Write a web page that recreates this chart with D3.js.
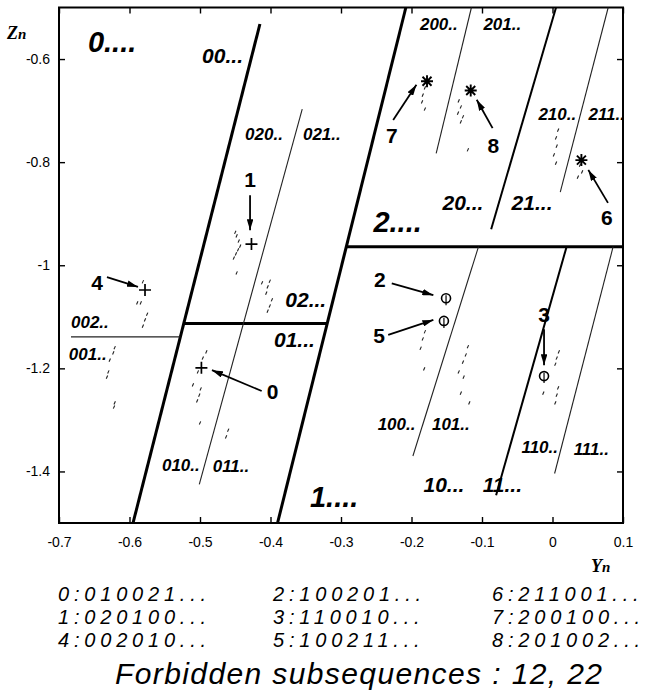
<!DOCTYPE html>
<html>
<head>
<meta charset="utf-8">
<script src="https://cdn.jsdelivr.net/npm/d3@7"></script>
<style>
	body { margin: 0; background: #fff; }
	svg text { font-family: "Liberation Sans", Arial, Helvetica, sans-serif; }
</style>
</head>
<body>
<svg width="648" height="700"></svg>
<script>
// ticks
let xTicks = [-0.7, -0.6, -0.5, -0.4, -0.3, -0.2, -0.1, 0, 0.1]
let yTicks = [-0.6, -0.8, -1, -1.2, -1.4]

// partition lines, each [[Yn, Zn], [Yn, Zn]]
let thickBounds = [
	[[-0.595, -1.5], [-0.415, -0.532]],
	[[-0.390, -1.5], [-0.208, -0.5]],
	[[-0.523, -1.113], [-0.320, -1.113]],
	[[-0.292, -0.964], [0.1, -0.964]]
]
let midBounds = [
	[[0.005, -0.5], [-0.087, -0.930]],
	[[0.020, -0.964], [-0.080, -1.446]]
]
let thinBounds = [
	[[-0.355, -0.697], [-0.501, -1.425]],
	[[-0.115, -0.5], [-0.165, -0.783]],
	[[0.079, -0.5], [0.011, -0.858]],
	[[-0.105, -0.964], [-0.198, -1.370]],
	[[0.086, -0.964], [0.003, -1.404]],
	[[-0.683, -1.139], [-0.528, -1.139]]
]

// attractor points
let orbitPoints = [
	[-0.450, -0.936], [-0.448, -0.943], [-0.445, -0.953], [-0.443, -0.963], [-0.446, -0.970],
	[-0.449, -0.978], [-0.452, -0.986], [-0.448, -1.015],
	[-0.401, -1.031], [-0.404, -1.042], [-0.406, -1.054], [-0.398, -1.067], [-0.401, -1.079],
	[-0.404, -1.089], [-0.412, -1.034],
	[-0.581, -1.032], [-0.584, -1.073], [-0.575, -1.095], [-0.578, -1.106], [-0.581, -1.118],
	[-0.589, -1.073],
	[-0.621, -1.160], [-0.623, -1.170], [-0.628, -1.184], [-0.630, -1.207], [-0.632, -1.217],
	[-0.621, -1.267], [-0.622, -1.275],
	[-0.491, -1.168], [-0.496, -1.180], [-0.503, -1.207], [-0.510, -1.232], [-0.499, -1.240],
	[-0.501, -1.252], [-0.504, -1.263], [-0.500, -1.306],
	[-0.460, -1.320], [-0.463, -1.333],
	[-0.181, -0.656], [-0.184, -0.670], [-0.185, -0.683], [-0.181, -0.697],
	[-0.133, -0.681], [-0.130, -0.693], [-0.134, -0.705], [-0.127, -0.712], [-0.130, -0.722],
	[-0.120, -0.776],
	[0.008, -0.738], [0.005, -0.753], [0.006, -0.769], [0.002, -0.786], [0.005, -0.802],
	[0.039, -0.806], [0.042, -0.819], [0.036, -0.829],
	[-0.181, -1.129], [-0.184, -1.143], [-0.187, -1.161], [-0.182, -1.201],
	[-0.120, -1.158], [-0.123, -1.174], [-0.127, -1.188], [-0.133, -1.207], [-0.126, -1.217],
	[-0.130, -1.248], [-0.118, -1.267],
	[0.009, -1.168], [0.006, -1.180], [0.004, -1.192], [0.008, -1.238], [0.006, -1.252],
	[0.004, -1.267], [-0.013, -1.248]
]

// periodic points by symbol
let plusPoints = [[-0.498, -1.199], [-0.427, -0.959], [-0.578, -1.048]]
let circlePoints = [[-0.151, -1.064], [-0.154, -1.108], [-0.012, -1.215]]
let starPoints = [[0.041, -0.796], [-0.178, -0.643], [-0.116, -0.661]]

let numberLabels = [
	['0', -0.397, -1.260], ['1', -0.429, -0.848], ['4', -0.646, -1.048],
	['7', -0.228, -0.763], ['8', -0.084, -0.782], ['6', 0.077, -0.922],
	['2', -0.245, -1.042], ['5', -0.246, -1.151], ['3', -0.012, -1.111]
]
let arrows = [
	[[-0.4125, -1.244], [-0.483, -1.2035]],
	[[-0.429, -0.864], [-0.429, -0.932]],
	[[-0.632, -1.023], [-0.588, -1.042]],
	[[-0.226, -0.718], [-0.193, -0.650]],
	[[-0.085, -0.734], [-0.1075, -0.679]],
	[[0.0787, -0.879], [0.0508, -0.815]],
	[[-0.228, -1.035], [-0.169, -1.058]],
	[[-0.233, -1.135], [-0.169, -1.106]],
	[[-0.012, -1.124], [-0.012, -1.194]]
]

// symbolic region names
let bigLabels = [['0....', -0.659, -0.586], ['1....', -0.344, -1.468], ['2....', -0.254, -0.935]]
let midLabels = [
	['00...', -0.497, -0.608], ['02...', -0.379, -1.081], ['01...', -0.395, -1.158],
	['20...', -0.156, -0.893], ['21...', -0.058, -0.893], ['10...', -0.183, -1.439],
	['11...', -0.099, -1.439]
]
let smallLabels = [
	['020..', -0.436, -0.757], ['021..', -0.354, -0.757], ['002..', -0.683, -1.122],
	['001..', -0.686, -1.184], ['010..', -0.554, -1.399], ['011..', -0.482, -1.402],
	['200..', -0.188, -0.544], ['201..', -0.098, -0.544], ['210..', -0.020, -0.718],
	['211..', 0.051, -0.718], ['100..', -0.248, -1.320], ['101..', -0.171, -1.320],
	['110..', -0.044, -1.365], ['111..', 0.030, -1.368]
]

let codeColumns = [
	['0:010021...', '1:020100...', '4:002010...'],
	['2:100201...', '3:110010...', '5:100211...'],
	['6:211001...', '7:200100...', '8:201002...']
]
let footNote = 'Forbidden subsequences : 12, 22'

let svg = d3.select('svg')
let x = d3.scaleLinear().domain([-0.7, 0.1]).range([59, 623])
let y = d3.scaleLinear().domain([-0.5, -1.5]).range([7.5, 523])

svg.append('defs').append('marker')
	.attr('id', 'head')
	.attr('viewBox', '0 0 10 6')
	.attr('refX', 10).attr('refY', 3)
	.attr('markerUnits', 'userSpaceOnUse')
	.attr('markerWidth', 11).attr('markerHeight', 6.6)
	.attr('orient', 'auto')
	.append('path')
	.attr('d', 'M0,0L10,3L0,6z')
	.attr('fill', '#000')

// axes, ticks inside on all four sides
function styleAxis(g) {
	g.select('.domain').remove()
	g.selectAll('.tick line').attr('stroke', '#000').attr('stroke-width', 1.4)
	g.selectAll('.tick text')
		.attr('fill', '#000')
		.style('font-family', '"Liberation Sans", Arial, sans-serif')
		.style('font-size', '14px')
}
svg.append('g').attr('transform', 'translate(0,523)')
	.call(d3.axisBottom(x).tickValues(xTicks).tickFormat(String).tickSize(-6).tickPadding(14))
	.call(styleAxis)
svg.append('g').attr('transform', 'translate(0,7.5)')
	.call(d3.axisTop(x).tickValues(xTicks).tickFormat('').tickSize(-6))
	.call(styleAxis)
svg.append('g').attr('transform', 'translate(59,0)')
	.call(d3.axisLeft(y).tickValues(yTicks).tickFormat(String).tickSize(-6).tickPadding(9))
	.call(styleAxis)
svg.append('g').attr('transform', 'translate(623,0)')
	.call(d3.axisRight(y).tickValues(yTicks).tickFormat('').tickSize(-6))
	.call(styleAxis)

svg.append('rect')
	.attr('x', x(-0.7)).attr('y', y(-0.5))
	.attr('width', x(0.1) - x(-0.7)).attr('height', y(-1.5) - y(-0.5))
	.attr('fill', 'none').attr('stroke', '#000').attr('stroke-width', 2)

function drawBounds(list, cls, width, colour) {
	svg.append('g').selectAll('line.' + cls)
		.data(list)
		.join('line')
		.attr('class', cls)
		.attr('x1', d => x(d[0][0])).attr('y1', d => y(d[0][1]))
		.attr('x2', d => x(d[1][0])).attr('y2', d => y(d[1][1]))
		.attr('stroke', colour)
		.attr('stroke-width', width)
}
drawBounds(thickBounds, 'thick', 3, '#000')
drawBounds(midBounds, 'mid', 2, '#000')
drawBounds(thinBounds, 'thin', 1.1, '#222')

// the attractor, small dashes
svg.append('g').selectAll('line')
	.data(orbitPoints)
	.join('line')
	.attr('x1', d => x(d[0]) - 0.7).attr('y1', d => y(d[1]) + 1.6)
	.attr('x2', d => x(d[0]) + 0.7).attr('y2', d => y(d[1]) - 1.6)
	.attr('stroke', '#222')
	.attr('stroke-width', 1.1)

svg.append('g').selectAll('path')
	.data(plusPoints)
	.join('path')
	.attr('transform', d => 'translate(' + x(d[0]) + ',' + y(d[1]) + ')')
	.attr('d', 'M-6,0H6M0,-6V6')
	.attr('stroke', '#000').attr('stroke-width', 1.7)

svg.append('g').selectAll('path')
	.data(starPoints)
	.join('path')
	.attr('transform', d => 'translate(' + x(d[0]) + ',' + y(d[1]) + ')')
	.attr('d', 'M-6,0H6M0,-6V6M-4.5,-4.5L4.5,4.5M-4.5,4.5L4.5,-4.5')
	.attr('stroke', '#000').attr('stroke-width', 1.9)

let circles = svg.append('g').selectAll('g')
	.data(circlePoints)
	.join('g')
	.attr('transform', d => 'translate(' + x(d[0]) + ',' + y(d[1]) + ')')
circles.append('circle')
	.attr('r', 4.5)
	.attr('fill', 'none').attr('stroke', '#000').attr('stroke-width', 1.6)
circles.append('path')
	.attr('d', 'M0,-3V7')
	.attr('stroke', '#000').attr('stroke-width', 1.2)

svg.append('g').selectAll('line')
	.data(arrows)
	.join('line')
	.attr('x1', d => x(d[0][0])).attr('y1', d => y(d[0][1]))
	.attr('x2', d => x(d[1][0])).attr('y2', d => y(d[1][1]))
	.attr('stroke', '#000').attr('stroke-width', 1.8)
	.attr('marker-end', 'url(#head)')

svg.append('g').selectAll('text')
	.data(numberLabels)
	.join('text')
	.attr('x', d => x(d[1])).attr('y', d => y(d[2]))
	.attr('text-anchor', 'middle')
	.style('font-weight', 'bold')
	.style('font-size', '21px')
	.text(d => d[0])

function drawNames(list, size) {
	svg.append('g').selectAll('text')
		.data(list)
		.join('text')
		.attr('x', d => x(d[1])).attr('y', d => y(d[2]))
		.style('font-weight', 'bold')
		.style('font-style', 'italic')
		.style('font-size', size + 'px')
		.text(d => d[0])
}
drawNames(bigLabels, 29)
drawNames(midLabels, 21)
drawNames(smallLabels, 17)

// axis names
svg.append('text').attr('x', 7).attr('y', 39)
	.style('font-family', '"Liberation Serif", "Times New Roman", serif')
	.style('font-weight', 'bold').style('font-style', 'italic').style('font-size', '18px')
	.call(t => t.append('tspan').text('Z'))
	.call(t => t.append('tspan').style('font-size', '15px').text('n'))
svg.append('text').attr('x', 591).attr('y', 572)
	.style('font-family', '"Liberation Serif", "Times New Roman", serif')
	.style('font-weight', 'bold').style('font-style', 'italic').style('font-size', '18px')
	.call(t => t.append('tspan').text('Y'))
	.call(t => t.append('tspan').style('font-size', '15px').text('n'))

// symbolic codes of the periodic points
let colX = [58, 273, 492]
let rowY = [601, 624, 647]
codeColumns.forEach((col, i) => {
	svg.append('g').selectAll('text')
		.data(col)
		.join('text')
		.attr('x', colX[i])
		.attr('y', (d, j) => rowY[j])
		.style('font-style', 'italic')
		.style('font-size', '20px')
		.style('letter-spacing', '4.8px')
		.text(d => d)
})

svg.append('text')
	.attr('x', 115).attr('y', 684)
	.attr('textLength', 487)
	.style('font-style', 'italic')
	.style('font-size', '30px')
	.text(footNote)
</script>
</body>
</html>
